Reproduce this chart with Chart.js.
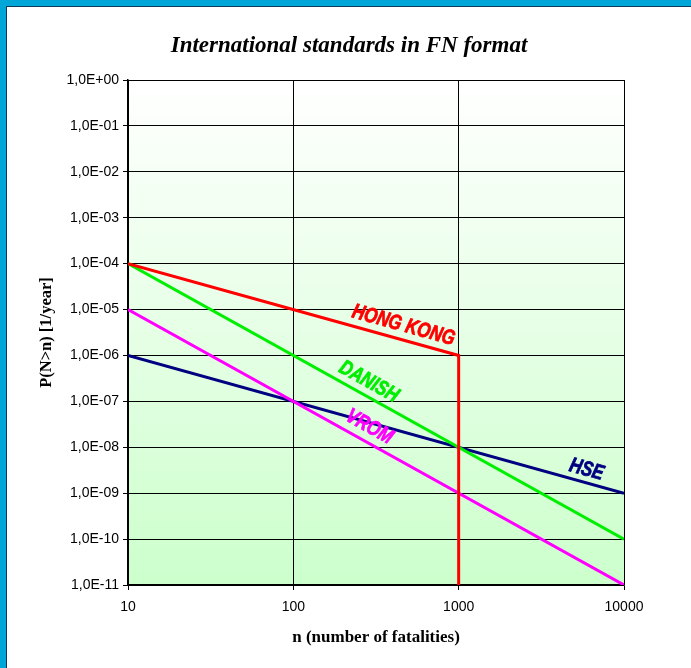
<!DOCTYPE html>
<html>
<head>
<meta charset="utf-8">
<script src="https://cdn.jsdelivr.net/npm/chart.js@4/dist/chart.umd.min.js"></script>
<style>
  body { margin: 0; background: #fff; }
  #frame {
    position: absolute; left: 0; top: 0;
    width: 691px; height: 668px; box-sizing: border-box;
    border-top: 6px solid #00a6d8; border-left: 6px solid #00a6d8;
  }
  #inner {
    width: 685px; height: 662px; box-sizing: border-box;
    border-top: 1px solid #0d3b57; border-left: 1px solid #0d3b57;
    background: #fff;
  }
  canvas { display: block; }
</style>
</head>
<body>
<div id="frame"><div id="inner"><canvas id="fn" width="684" height="661"></canvas></div></div>
<script>
// FN curves: n (fatalities) vs P(N>n) per year
const nHongKong = [10, 1000, 1000]
const pHongKong = [1e-4, 1e-6, 1e-11]
const nDanish = [10, 10000]
const pDanish = [1e-4, 1e-10]
const nVrom = [10, 10000]
const pVrom = [1e-5, 1e-11]
const nHse = [10, 10000]
const pHse = [1e-6, 1e-9]

const seriesNames = ['HONG KONG', 'DANISH', 'VROM', 'HSE']
const labelN = [440, 261, 261, 5660]   // where each name sits along its line

const xTicks = [10, 100, 1000, 10000]
const xTickLabels = ['10', '100', '1000', '10000']
const yTicks = [1, 1e-1, 1e-2, 1e-3, 1e-4, 1e-5, 1e-6, 1e-7, 1e-8, 1e-9, 1e-10, 1e-11]
const yTickLabels = ['1,0E+00', '1,0E-01', '1,0E-02', '1,0E-03', '1,0E-04', '1,0E-05',
  '1,0E-06', '1,0E-07', '1,0E-08', '1,0E-09', '1,0E-10', '1,0E-11']

const colors = ['#ff0000', '#00ee00', '#ff00ff', '#000080']
const labelOffset = [14, 13.5, 14.5, 12.5]

const toPoints = (xs, ys) => xs.map((x, i) => ({x: x, y: ys[i]}))
const allSeries = [
  toPoints(nHongKong, pHongKong),
  toPoints(nDanish, pDanish),
  toPoints(nVrom, pVrom),
  toPoints(nHse, pHse)
]

// light gradient behind the plot
const plotBackground = {
  id: 'plotBackground',
  beforeDraw(chart) {
    const {ctx, chartArea: a} = chart
    const g = ctx.createLinearGradient(0, a.top, 0, a.bottom)
    g.addColorStop(0, '#ffffff')
    g.addColorStop(1, '#ccffcc')
    ctx.save()
    ctx.fillStyle = g
    ctx.fillRect(a.left, a.top, a.right - a.left, a.bottom - a.top)
    ctx.restore()
  }
}

// names written along the lines
const lineNames = {
  id: 'lineNames',
  afterDatasetsDraw(chart) {
    const {ctx, scales: {x, y}} = chart
    ctx.save()
    seriesNames.forEach((name, i) => {
      const pts = allSeries[i]
      const x0 = x.getPixelForValue(pts[0].x), y0 = y.getPixelForValue(pts[0].y)
      const x1 = x.getPixelForValue(pts[1].x), y1 = y.getPixelForValue(pts[1].y)
      const px = x.getPixelForValue(labelN[i])
      const py = y0 + (px - x0) * (y1 - y0) / (x1 - x0)
      const ang = Math.atan2(y1 - y0, x1 - x0)
      ctx.save()
      ctx.translate(px, py)
      ctx.rotate(ang)
      ctx.translate(0, -labelOffset[i])
      ctx.scale(0.8, 1)
      ctx.font = 'italic bold 21px "Liberation Sans", Arial, sans-serif'
      ctx.fillStyle = colors[i]
      ctx.strokeStyle = colors[i]
      ctx.lineWidth = 0.8
      ctx.textAlign = 'center'
      ctx.textBaseline = 'middle'
      ctx.fillText(name, 0, 0)
      ctx.strokeText(name, 0, 0)
      ctx.restore()
    })
    ctx.restore()
  }
}

new Chart(document.getElementById('fn'), {
  type: 'line',
  data: {
    datasets: allSeries.map((pts, i) => ({
      label: seriesNames[i],
      data: pts,
      borderColor: colors[i],
      borderWidth: 3,
      pointRadius: 0,
      fill: false,
      tension: 0
    }))
  },
  options: {
    responsive: false,
    devicePixelRatio: 1,
    animation: false,
    layout: {padding: 0},
    plugins: {
      legend: {display: false},
      tooltip: {enabled: false},
      title: {
        display: true,
        text: 'International standards in FN format',
        color: '#000',
        font: {family: '"Liberation Serif", "Times New Roman", serif', size: 23, style: 'italic', weight: 'bold'},
        padding: {top: 25, bottom: 20.4}
      }
    },
    scales: {
      x: {
        type: 'logarithmic',
        min: 10,
        max: 10000,
        afterBuildTicks: (s) => { s.ticks = xTicks.map(v => ({value: v})) },
        afterFit: (s) => { s.height = 83 },
        ticks: {
          autoSkip: false,
          maxRotation: 0,
          color: '#000',
          padding: 9,
          font: {family: '"Liberation Sans", Arial, sans-serif', size: 14},
          callback: (v, i) => xTickLabels[i]
        },
        grid: {color: '#000', lineWidth: 1, tickLength: 5},
        border: {color: '#000', width: 1.5},
        title: {
          display: true,
          text: 'n (number of fatalities)',
          color: '#000',
          font: {family: '"Liberation Serif", "Times New Roman", serif', size: 17, weight: 'bold'},
          padding: {top: 0, bottom: 20}
        }
      },
      y: {
        type: 'logarithmic',
        min: 1e-11,
        max: 1,
        afterBuildTicks: (s) => { s.ticks = yTicks.map(v => ({value: v})) },
        afterFit: (s) => { s.width = 121 },
        ticks: {
          autoSkip: false,
          color: '#000',
          padding: 4,
          font: {family: '"Liberation Sans", Arial, sans-serif', size: 14},
          callback: (v, i) => yTickLabels[i]
        },
        grid: {color: '#000', lineWidth: 1, tickLength: 5},
        border: {color: '#000', width: 1.5},
        title: {
          display: true,
          text: 'P(N>n) [1/year]',
          color: '#000',
          font: {family: '"Liberation Serif", "Times New Roman", serif', size: 16.5, weight: 'bold'},
          padding: {top: 30, bottom: 0}
        }
      },
      // empty strip on the right so the plot ends where the original does
      rightSpace: {
        position: 'right',
        display: true,
        ticks: {display: false},
        grid: {display: false, drawTicks: false},
        border: {display: false},
        afterFit: (s) => { s.width = 67 }
      }
    }
  },
  plugins: [plotBackground, lineNames]
})
</script>
</body>
</html>
